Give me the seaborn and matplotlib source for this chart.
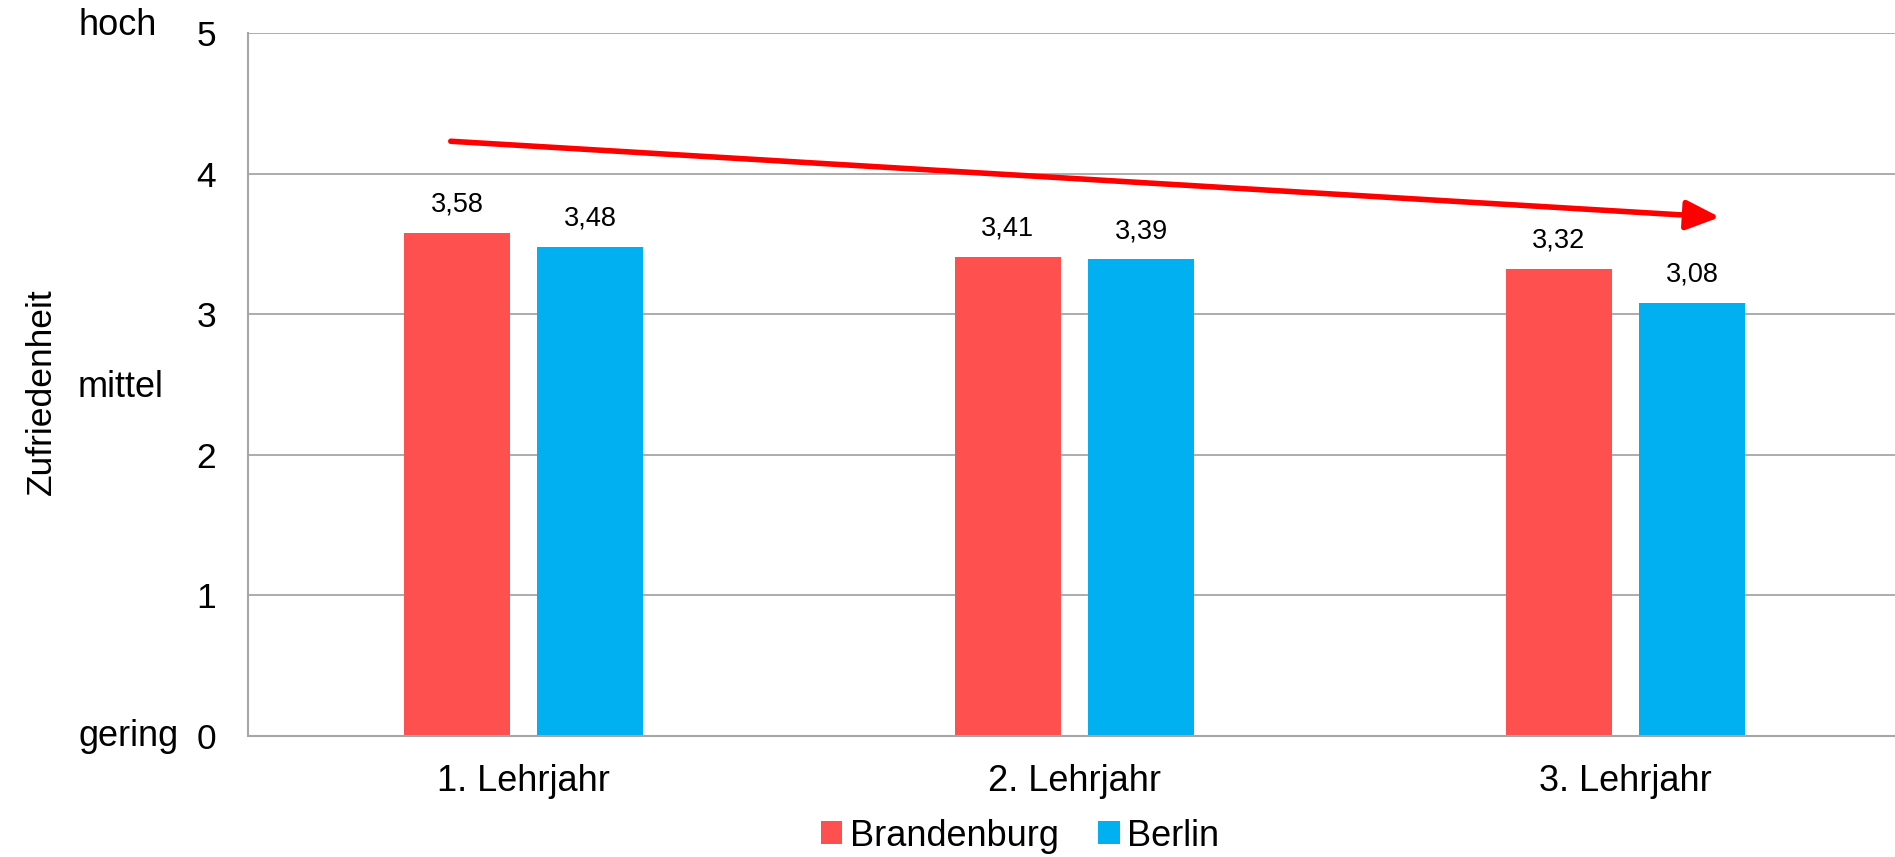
import matplotlib
matplotlib.use("Agg")
import matplotlib.pyplot as plt
import seaborn as sns
import pandas as pd

categories = ["1. Lehrjahr", "2. Lehrjahr", "3. Lehrjahr"]
series_names = ["Brandenburg", "Berlin"]
brandenburg = [3.58, 3.41, 3.32]
berlin = [3.48, 3.39, 3.08]
y_ticks = [0, 1, 2, 3, 4, 5]
level_labels = {"hoch": 5.05, "mittel": 2.48, "gering": 0}
colors = ["#FF5050", "#00B0F0"]

df = pd.DataFrame({
    "Lehrjahr": categories * 2,
    "Land": [series_names[0]] * 3 + [series_names[1]] * 3,
    "Wert": brandenburg + berlin,
})

sns.set_theme(style="white")
plt.rcParams["font.family"] = ["Liberation Sans", "DejaVu Sans"]
for k in ["text.color", "xtick.color", "ytick.color", "axes.labelcolor"]:
    plt.rcParams[k] = "black"

W, H = 1895, 857
fig = plt.figure(figsize=(W / 100, H / 100), dpi=100)
ax = fig.add_axes([248 / W, 1 - 736 / H, 1653 / W, 703 / H])

sns.barplot(data=df, x="Lehrjahr", y="Wert", hue="Land", palette=colors,
            width=0.483, gap=0.2, ax=ax, legend=True, saturation=1,
            edgecolor="none")

ax.set_xlim(-0.5, 2.5)
ax.set_ylim(0, 5)
ax.set_yticks(y_ticks)
ax.set_yticklabels([str(t) for t in y_ticks], fontsize=25.5)
ax.tick_params(axis="y", length=0, pad=23)
ax.tick_params(axis="x", length=0, pad=20, labelsize=26)
ax.yaxis.grid(True, color="#A6A6A6", linewidth=1.3)
ax.set_axisbelow(True)
for s in ["top", "right"]:
    ax.spines[s].set_visible(False)
for s in ["left", "bottom"]:
    ax.spines[s].set_color("#A6A6A6")
    ax.spines[s].set_linewidth(1.5)
ax.set_xlabel("")
ax.set_ylabel("Zufriedenheit", fontsize=25.5, labelpad=0)
ax.yaxis.set_label_coords(-190 / 1653, 0.49)

for cont in ax.containers:
    ax.bar_label(cont, labels=[f"{v:.2f}".replace(".", ",") for v in cont.datavalues],
                 padding=11, fontsize=19.5)

for txt, yv in level_labels.items():
    ax.text(-170 / 1653, yv, txt, transform=ax.get_yaxis_transform(),
            ha="left", va="center", fontsize=26)

ax.annotate("", xy=(2.171, 3.69), xytext=(-0.132, 4.23),
            arrowprops=dict(arrowstyle="-|>,head_length=1.7,head_width=0.75",
                            color="#FF0000", lw=4, shrinkA=0, shrinkB=0))

leg = ax.legend(loc="center", bbox_to_anchor=(1020 / W, 1 - 836 / H),
                bbox_transform=fig.transFigure, ncol=2, frameon=False,
                fontsize=26, handlelength=0.6, handleheight=0.6,
                handletextpad=0.2, columnspacing=1.1)

fig.savefig("out.png", dpi=100)
